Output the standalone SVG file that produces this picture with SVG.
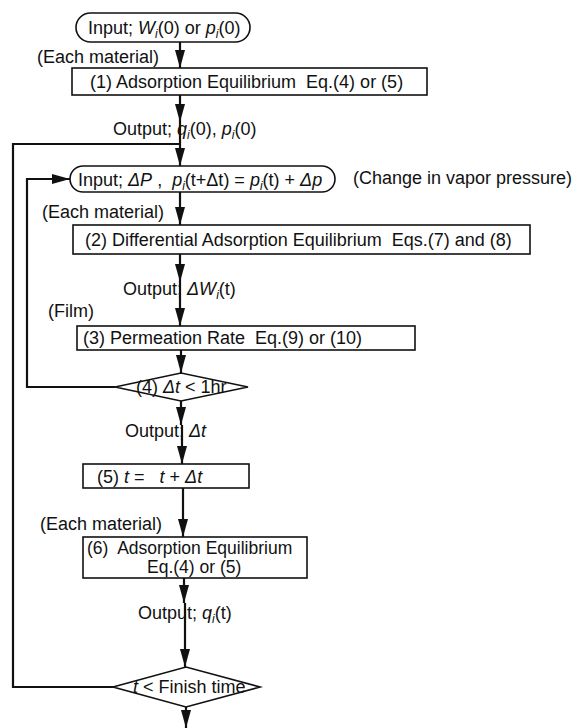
<svg xmlns="http://www.w3.org/2000/svg" width="578" height="728" viewBox="0 0 578 728">
<defs>
<style>
text{font-family:"Liberation Sans",Arial,sans-serif;font-size:18px;fill:#111;white-space:pre;}
.it{font-style:italic;}
.sub{font-style:italic;font-size:12px;}
.box{fill:#fff;stroke:#111;stroke-width:1.6;}
.con{fill:none;stroke:#111;stroke-width:2.2;}
.arr{marker-end:url(#ah);}
</style>
<marker id="ah" viewBox="0 0 18 10" refX="18" refY="5" markerWidth="18" markerHeight="10" markerUnits="userSpaceOnUse" orient="auto">
<path d="M0,0 L18,5 L0,10 Z" fill="#111"/>
</marker>
</defs>
<rect width="578" height="728" fill="#fff"/>

<g id="connectors">
<path class="con arr" d="M180,42 V68"/>
<path class="con arr" d="M180,95 V122"/>
<path class="con arr" d="M180,122 V166"/>
<path class="con" d="M180,144 H13 V687 H113"/>
<path class="con arr" d="M115,387 H27 V179 H70"/>
<path class="con arr" d="M180,192 V225"/>
<path class="con arr" d="M180,254 V282"/>
<path class="con arr" d="M180,282 V326"/>
<path class="con arr" d="M181,350 V373"/>
<path class="con arr" d="M181,401 V425"/>
<path class="con arr" d="M182,425 V464"/>
<path class="con arr" d="M183,488 V537"/>
<path class="con arr" d="M184,578 V603"/>
<path class="con arr" d="M185,603 V667"/>
<path class="con arr" d="M186,707 V728"/>
</g>

<g id="n-input0">
<rect class="box" x="76" y="13" width="174" height="29" rx="14.5"/>
<text x="88" y="34">Input; <tspan class="it">W</tspan><tspan class="sub" dy="4">i</tspan><tspan dy="-4">(0) or </tspan><tspan class="it">p</tspan><tspan class="sub" dy="4">i</tspan><tspan dy="-4">(0)</tspan></text>
</g>
<g id="lbl-each1"><text x="37" y="63">(Each material)</text></g>

<g id="n-step1">
<rect class="box" x="72" y="68" width="355" height="27"/>
<text x="90" y="88">(1) Adsorption Equilibrium  Eq.(4) or (5)</text>
</g>

<g id="lbl-out1"><text x="113" y="135">Output; <tspan class="it">q</tspan><tspan class="sub" dy="4">i</tspan><tspan dy="-4">(0), </tspan><tspan class="it">p</tspan><tspan class="sub" dy="4">i</tspan><tspan dy="-4">(0)</tspan></text></g>

<g id="n-input2">
<rect class="box" x="70" y="166" width="265" height="26" rx="13"/>
<text x="78" y="186">Input; <tspan class="it">ΔP</tspan> ,  <tspan class="it">p</tspan><tspan class="sub" dy="4">i</tspan><tspan dy="-4">(t+Δt) = </tspan><tspan class="it">p</tspan><tspan class="sub" dy="4">i</tspan><tspan dy="-4">(t) + </tspan><tspan class="it">Δp</tspan></text>
</g>
<g id="lbl-change"><text x="353" y="184">(Change in vapor pressure)</text></g>
<g id="lbl-each2"><text x="42" y="218">(Each material)</text></g>

<g id="n-step2">
<rect class="box" x="73" y="225" width="457" height="29"/>
<text x="85" y="246">(2) Differential Adsorption Equilibrium  Eqs.(7) and (8)</text>
</g>

<g id="lbl-out2"><text x="123" y="295">Output; <tspan class="it">ΔW</tspan><tspan class="sub" dy="4">i</tspan><tspan dy="-4">(t)</tspan></text></g>
<g id="lbl-film"><text x="48" y="317">(Film)</text></g>

<g id="n-step3">
<rect class="box" x="77" y="326" width="338" height="24"/>
<text x="83" y="344">(3) Permeation Rate  Eq.(9) or (10)</text>
</g>

<g id="n-dec4">
<polygon class="box" points="115,387 181,373 248,387 181,401"/>
<text x="136" y="393">(4) <tspan class="it">Δt</tspan> &lt; 1hr</text>
</g>

<g id="lbl-out3"><text x="125" y="437">Output; <tspan class="it">Δt</tspan></text></g>

<g id="n-step5">
<rect class="box" x="83" y="464" width="166" height="24"/>
<text x="97" y="483">(5) <tspan class="it">t</tspan> =   <tspan class="it">t</tspan> + <tspan class="it">Δt</tspan></text>
</g>

<g id="lbl-each3"><text x="40" y="530">(Each material)</text></g>

<g id="n-step6">
<rect class="box" x="83" y="537" width="224" height="41"/>
<text x="87" y="554" style="font-size:17.5px">(6)  Adsorption Equilibrium</text>
<text x="147" y="573" style="font-size:17.5px">Eq.(4) or (5)</text>
</g>

<g id="lbl-out4"><text x="138" y="619">Output; <tspan class="it">q</tspan><tspan class="sub" dy="4">i</tspan><tspan dy="-4">(t)</tspan></text></g>

<g id="n-dec-finish">
<polygon class="box" points="113,687 186,667 260,687 186,707"/>
<text x="133" y="693"><tspan class="it">t</tspan> &lt; Finish time</text>
</g>
</svg>
